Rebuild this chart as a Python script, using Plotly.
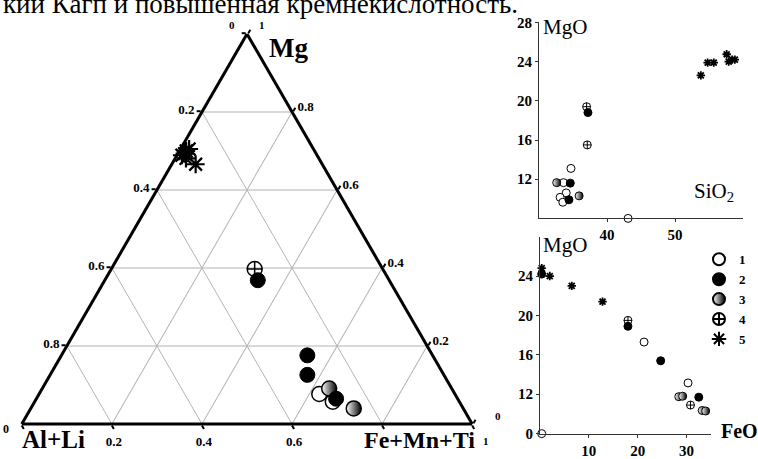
import plotly.graph_objects as go

W, H = 758, 459
SERIF = "Liberation Serif"

# ---- Ternary diagram: Mg / (Al+Li) / (Fe+Mn+Ti) fractions ----
t1_mg = [0.077, 0.057]
t1_al = [0.301, 0.281]
t1_fe = [0.622, 0.662]

t2_mg = [0.369, 0.176, 0.126, 0.065]
t2_al = [0.292, 0.278, 0.303, 0.270]
t2_fe = [0.340, 0.546, 0.571, 0.666]

t3_mg = [0.091, 0.040]
t3_al = [0.272, 0.243]
t3_fe = [0.637, 0.717]

t4_mg = [0.397]
t4_al = [0.284]
t4_fe = [0.318]

t5_mg = [0.693, 0.705, 0.681, 0.666, 0.689, 0.700]
t5_al = [0.292, 0.276, 0.295, 0.281, 0.300, 0.285]
t5_fe = [0.015, 0.019, 0.024, 0.053, 0.011, 0.015]

# ---- SiO2 vs MgO (wt.%) ----
s1_sio2 = [34.7, 33.6, 34.0, 33.1, 33.5, 43.1]
s1_mgo = [13.1, 11.65, 10.6, 10.15, 9.65, 8.0]
s2_sio2 = [37.2, 34.6, 34.4]
s2_mgo = [18.8, 11.6, 9.9]
s3_sio2 = [32.6, 35.9]
s3_mgo = [11.65, 10.3]
s4_sio2 = [37.0, 37.1]
s4_mgo = [19.4, 15.5]
s5_sio2 = [53.8, 54.8, 55.7, 57.6, 57.9, 58.4, 58.8]
s5_mgo = [22.6, 23.9, 23.9, 24.75, 24.0, 24.2, 24.2]

# ---- FeO vs MgO (wt.%) ----
f1_feo = [21.3, 30.3, 35.2, 35.5, 36.9, 0.35]
f1_mgo = [17.3, 13.15, 10.7, 9.8, 9.7, 8.0]
f2_feo = [0.35, 18.0, 24.7, 32.5, 37.9]
f2_mgo = [24.2, 18.9, 15.4, 11.7, 10.05]
f3_feo = [28.4, 29.2, 33.2, 33.9]
f3_mgo = [11.75, 11.8, 10.35, 10.3]
f4_feo = [18.0, 30.8]
f4_mgo = [19.5, 10.9]
f5_feo = [0.35, 2.0, 6.5, 12.8]
f5_mgo = [24.8, 24.0, 23.0, 21.4]

# ternary tick values (plotly a/b/c) and the labels printed next to them;
# the corner labels are placed separately beside the vertices
tern_a_vals = [1.0, 0.8, 0.6, 0.4, 0.2]
tern_a_text = ["", "0.2", "0.4", "0.6", "0.8"]
tern_b_vals = [1.0, 0.8, 0.6, 0.4, 0.2, 0.0]
tern_b_text = ["", "0.2", "0.4", "0.6", "", ""]
tern_c_vals = [0.0, 0.2, 0.4, 0.6, 0.8, 1.0]
tern_c_text = ["", "0.8", "0.6", "0.4", "0.2", ""]

groups = ["1", "2", "3", "4", "5"]


def marker_style(g, big):
    s = 15 if big else 8
    if g == "1":
        return dict(symbol="circle", size=s, color="white",
                    line=dict(color="black", width=1.5 if big else 1))
    if g == "2":
        return dict(symbol="circle", size=s, color="black",
                    line=dict(color="black", width=1))
    if g == "3":
        return dict(symbol="circle", size=s, color="white",
                    gradient=dict(type="horizontal", color="black"),
                    line=dict(color="black", width=1.5 if big else 1))
    if g == "4":
        return dict(symbol="circle-cross-open", size=s, color="black",
                    line=dict(width=1.5 if big else 1))
    return dict(symbol="asterisk-open", size=15 if big else 7, color="black",
                line=dict(width=2.2 if big else 1.8))


tern = {
    "1": (t1_mg, t1_al, t1_fe), "2": (t2_mg, t2_al, t2_fe),
    "3": (t3_mg, t3_al, t3_fe), "4": (t4_mg, t4_al, t4_fe),
    "5": (t5_mg, t5_al, t5_fe),
}
sio2 = {
    "1": (s1_sio2, s1_mgo), "2": (s2_sio2, s2_mgo), "3": (s3_sio2, s3_mgo),
    "4": (s4_sio2, s4_mgo), "5": (s5_sio2, s5_mgo),
}
feo = {
    "1": (f1_feo, f1_mgo), "2": (f2_feo, f2_mgo), "3": (f3_feo, f3_mgo),
    "4": (f4_feo, f4_mgo), "5": (f5_feo, f5_mgo),
}

draw_order = ["4", "1", "3", "2", "5"]

fig = go.Figure()
for g in draw_order:
    mg, al, fe = tern[g]
    fig.add_trace(go.Scatterternary(
        a=mg, b=al, c=fe, mode="markers", name=g, legendgroup=g,
        legendrank=int(g), showlegend=True, cliponaxis=False,
        marker=marker_style(g, True)))
for g in draw_order:
    x, y = sio2[g]
    fig.add_trace(go.Scatter(
        x=x, y=y, mode="markers", name=g, legendgroup=g, showlegend=False,
        cliponaxis=False, xaxis="x", yaxis="y", marker=marker_style(g, False)))
for g in draw_order:
    x, y = feo[g]
    fig.add_trace(go.Scatter(
        x=x, y=y, mode="markers", name=g, legendgroup=g, showlegend=False,
        cliponaxis=False, xaxis="x2", yaxis="y2", marker=marker_style(g, False)))

tick_font_t = dict(family=SERIF, size=13, color="black", weight="bold")
tern_axis = dict(
    showline=True, linecolor="black", linewidth=3,
    showgrid=True, gridcolor="#b4b4b4", gridwidth=1,
    ticks="outside", ticklen=4, tickwidth=2, tickcolor="black",
    tickfont=tick_font_t, tickmode="array", title=dict(text=""),
    min=0,
)

axis_font = dict(family=SERIF, size=15, color="black", weight="bold")
cart_axis = dict(
    showline=True, linecolor="#333333", linewidth=1,
    ticks="outside", ticklen=3, tickcolor="#333333",
    showgrid=False, zeroline=False, tickfont=axis_font, tickmode="array",
)

fig.update_layout(
    width=W, height=H,
    margin=dict(l=0, r=0, t=0, b=0),
    paper_bgcolor="white", plot_bgcolor="white",
    showlegend=True,
    legend=dict(
        x=699 / W, y=1 - 246 / H, xanchor="left", yanchor="top",
        font=dict(family=SERIF, size=13, color="black", weight="bold"),
        bgcolor="rgba(0,0,0,0)", itemsizing="constant",
        tracegroupgap=0,
    ),
    ternary=dict(
        domain=dict(x=[12 / W, 482 / W], y=[1 - 433 / H, 1 - 27 / H]),
        sum=1, bgcolor="white",
        aaxis=dict(tern_axis, tickvals=tern_a_vals, ticktext=tern_a_text),
        baxis=dict(tern_axis, tickvals=tern_b_vals, ticktext=tern_b_text),
        caxis=dict(tern_axis, tickvals=tern_c_vals, ticktext=tern_c_text),
    ),
    xaxis=dict(cart_axis, domain=[539 / W, 743 / W], range=[30, 60],
               anchor="y", tickvals=[40, 50]),
    yaxis=dict(cart_axis, domain=[1 - 219 / H, 1 - 15 / H], range=[8, 28],
               anchor="x", tickvals=[12, 16, 20, 24, 28]),
    xaxis2=dict(cart_axis, domain=[540 / W, 711 / W], range=[0, 35],
                anchor="y2", tickvals=[10, 20, 30]),
    yaxis2=dict(cart_axis, domain=[1 - 443 / H, 1 - 238 / H], range=[8, 28],
                anchor="x2", tickvals=[8, 12, 16, 20, 24],
                ticktext=["0", "12", "16", "20", "24"]),
)


def label(text, px, py, size, bold=False, **kw):
    fig.add_annotation(
        text=text, x=px / W, y=1 - py / H, xref="paper", yref="paper",
        showarrow=False, xanchor=kw.get("xanchor", "center"),
        yanchor="middle",
        font=dict(family=SERIF, size=size, color="black",
                  weight="bold" if bold else "normal"))


label("кий Кагп и повышенная кремнекислотность.", 1, -4, 27, xanchor="left")
label("Mg", 288, 42, 27, bold=True)
label("Al+Li", 53, 449, 25, bold=True)
label("Fe+Mn+Ti", 419, 450, 24, bold=True)

# corner scale values of the triangle
label("0", 232, 18, 11, bold=True)
label("1", 262, 18, 11, bold=True)
label("0", 6, 438, 12, bold=True)
label("1", 486, 451, 11, bold=True)
label("0", 498, 425, 11, bold=True)

label("MgO", 565, 20, 21)
label("SiO<sub>2</sub>", 714, 192, 21)
label("MgO", 565, 247, 21)
label("FeO", 739, 440, 20, bold=True)

fig.write_html("out.html")
